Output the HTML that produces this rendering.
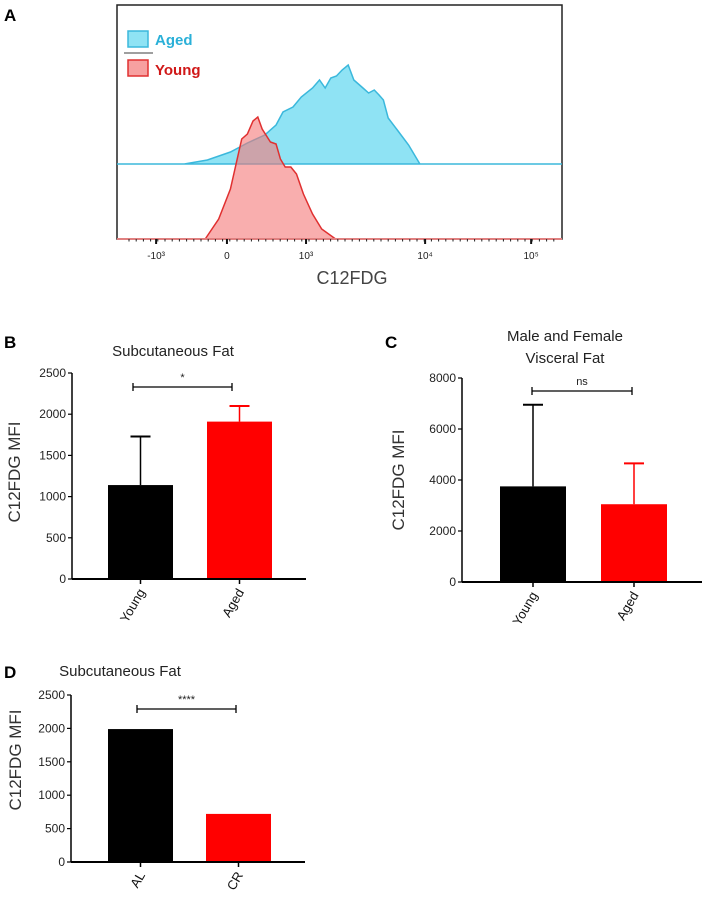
<!DOCTYPE html>
<html><head><meta charset="utf-8"><style>
body{margin:0;background:#fff;width:710px;height:899px;overflow:hidden;font-family:"Liberation Sans",sans-serif}
svg text{font-family:"Liberation Sans",sans-serif}
</style></head><body>
<svg id="s" width="710" height="899" xmlns="http://www.w3.org/2000/svg">
<text x="4" y="21" font-size="17" font-weight="bold">A</text>
<text x="4" y="348" font-size="17" font-weight="bold">B</text>
<text x="385" y="348" font-size="17" font-weight="bold">C</text>
<text x="4" y="678" font-size="17" font-weight="bold">D</text>
</svg>
<script>
// Histogram data (channel 0..1024 across axis, counts in arbitrary units)
const youngCh=[203,234,261,287,300,313,324,334,353,366,376,387,400,413,429,450,471,503];
const youngCount=[0,20,50,100,105,118,122,110,97,95,80,72,72,65,45,25,10,0];
const agedCh=[155,208,261,300,340,366,382,405,424,450,466,479,492,505,518,532,545,566,579,592,603,613,624,645,671,697,729];
const agedCount=[0,4,12,21,29,39,52,57,67,76,84,76,86,88,94,99,84,76,71,74,69,64,46,34,19,0,0];
const histTicks=["-10³","0","10³","10⁴","10⁵"];
const histTickCh=[90,253,435,709,953];
// Bar chart B
const bCats=["Young","Aged"], bVals=[1140,1910], bErr=[1730,2100], bTicks=[0,500,1000,1500,2000,2500];
// Bar chart C
const cCats=["Young","Aged"], cVals=[3750,3050], cErr=[6950,4650], cTicks=[0,2000,4000,6000,8000];
// Bar chart D
const dCats=["AL","CR"], dVals=[1990,720], dErr=[1990,720], dTicks=[0,500,1000,1500,2000,2500];

const S=document.getElementById('s'),NS="http://www.w3.org/2000/svg";
function mk(t,a,p){const e=document.createElementNS(NS,t);for(const k in a)e.setAttribute(k,a[k]);(p||S).appendChild(e);return e;}

// Panel A
const bx0=117,bx1=562,by0=5,by1=239,agedBase=164;
const hx=c=>bx0+c/1024*(bx1-bx0);
const hyY=v=>by1-v; const hyA=v=>agedBase-v;
let r=mk('rect',{x:bx0,y:by0,width:bx1-bx0,height:by1-by0,fill:'none',stroke:'#222','stroke-width':1.5});

let d='M'+bx0+','+agedBase+' L'+hx(agedCh[0])+','+agedBase;
agedCh.forEach((c,i)=>d+=' L'+hx(c)+','+hyA(agedCount[i]));
d+=' L'+bx1+','+agedBase;
let p=mk('path',{d:d+' Z',fill:'#8fe3f4',stroke:'#3bb8dc','stroke-width':1.5});

let dy='M'+hx(youngCh[0])+','+by1;
youngCh.forEach((c,i)=>dy+=' L'+hx(c)+','+hyY(youngCount[i]));
p=mk('path',{d:dy+' Z',fill:'rgba(245,120,120,0.6)',stroke:'#e03030','stroke-width':1.5});

mk('line',{x1:bx0,y1:by1,x2:bx1,y2:by1,stroke:'#e08080','stroke-width':2});
histTicks.forEach((t,i)=>{const x=hx(histTickCh[i]);
 mk('line',{x1:x,y1:by1,x2:x,y2:by1+5,stroke:'#111','stroke-width':2});
 let tt=mk('text',{x:x,y:259,'font-size':10,'text-anchor':'middle',fill:'#222'});tt.textContent=t;
 });
for(let i=0;i<60;i++){const x=bx0+12+i*7.2;mk('line',{x1:x,y1:by1,x2:x,y2:by1+2.5,stroke:'#222','stroke-width':1});}
let t=mk('text',{x:352,y:284,'font-size':18,'text-anchor':'middle',fill:'#444'});t.textContent='C12FDG';

r=mk('rect',{x:128,y:31,width:20,height:16,fill:'#8fe3f4',stroke:'#3bb8dc','stroke-width':1.5});

t=mk('text',{x:155,y:45,'font-size':15,'font-weight':'bold',fill:'#2ab0d8'});t.textContent='Aged';

mk('line',{x1:124,y1:53,x2:153,y2:53,stroke:'#666','stroke-width':1.2});
r=mk('rect',{x:128,y:60,width:20,height:16,fill:'#f7a0a0',stroke:'#e03030','stroke-width':1.5});

t=mk('text',{x:155,y:75,'font-size':15,'font-weight':'bold',fill:'#d01818'});t.textContent='Young';


function bar(o){
 const {ax,x1,y0,yTop,max,cats,vals,errs,ticks,barX,barW,title,sig,brY,brX,tickRot,id,ylabY}=o;
 const y=v=>y0-v/max*(y0-yTop);
 const g=mk('g',{});
 vals.forEach((v,i)=>{
  const cx=barX[i]+barW/2;
  if(errs[i]>v){mk('line',{x1:cx,y1:y(v),x2:cx,y2:y(errs[i]),stroke:i?'#f00':'#000','stroke-width':1.5},g);
   mk('line',{x1:cx-10,y1:y(errs[i]),x2:cx+10,y2:y(errs[i]),stroke:i?'#f00':'#000','stroke-width':2},g);}
  let b=mk('rect',{x:barX[i],y:y(v),width:barW,height:y0-y(v),fill:i?'#ff0000':'#000'},g);
  
  mk('line',{x1:cx,y1:y0,x2:cx,y2:y0+5,stroke:'#000','stroke-width':1.5},g);
  let tl=mk('text',{x:0,y:0,'font-size':13,'text-anchor':'end',fill:'#111',transform:`translate(${cx+5},${y0+13}) rotate(${tickRot})`},g);
  tl.textContent=cats[i];
 });
 mk('line',{x1:ax,y1:yTop,x2:ax,y2:y0,stroke:'#000','stroke-width':1.5},g);
 mk('line',{x1:ax,y1:y0,x2:x1,y2:y0,stroke:'#000','stroke-width':2},g);
 ticks.forEach(v=>{mk('line',{x1:ax-4,y1:y(v),x2:ax,y2:y(v),stroke:'#000','stroke-width':1.2},g);
  let tl=mk('text',{x:ax-6,y:y(v)+4,'font-size':12,'text-anchor':'end',fill:'#222'},g);tl.textContent=v;
  });
 let yl=mk('text',{x:0,y:0,'font-size':17,'text-anchor':'middle',fill:'#333',transform:`translate(${o.ylx},${ylabY}) rotate(-90)`},g);
 yl.textContent='C12FDG MFI';
 title.forEach((tx,i)=>{let tt=mk('text',{x:o.titleX,y:o.titleY+i*22,'font-size':15,'text-anchor':'middle',fill:'#222'},g);tt.textContent=tx;
  });
 mk('line',{x1:brX[0],y1:brY,x2:brX[1],y2:brY,stroke:'#000','stroke-width':1.3},g);
 mk('line',{x1:brX[0],y1:brY-4,x2:brX[0],y2:brY+4,stroke:'#000','stroke-width':1.3},g);
 mk('line',{x1:brX[1],y1:brY-4,x2:brX[1],y2:brY+4,stroke:'#000','stroke-width':1.3},g);
 let st=mk('text',{x:(brX[0]+brX[1])/2,y:brY-6,'font-size':11,'text-anchor':'middle',fill:'#222'},g);st.textContent=sig;
 
}
bar({id:'b',ax:72,x1:306,y0:579,yTop:373,max:2500,cats:bCats,vals:bVals,errs:bErr,ticks:bTicks,barX:[108,207],barW:65,title:['Subcutaneous Fat'],titleX:173,titleY:356,sig:'*',brY:387,brX:[133,232],tickRot:-60,ylabY:472,ylx:20});
bar({id:'c',ax:462,x1:702,y0:582,yTop:378,max:8000,cats:cCats,vals:cVals,errs:cErr,ticks:cTicks,barX:[500,601],barW:66,title:['Male and Female','Visceral  Fat'],titleX:565,titleY:341,sig:'ns',brY:391,brX:[532,632],tickRot:-60,ylabY:480,ylx:404});
bar({id:'d',ax:71,x1:305,y0:862,yTop:695,max:2500,cats:dCats,vals:dVals,errs:dErr,ticks:dTicks,barX:[108,206],barW:65,title:['Subcutaneous Fat'],titleX:120,titleY:676,sig:'****',brY:709,brX:[137,236],tickRot:-60,ylabY:760,ylx:21});
</script>
</body></html>
